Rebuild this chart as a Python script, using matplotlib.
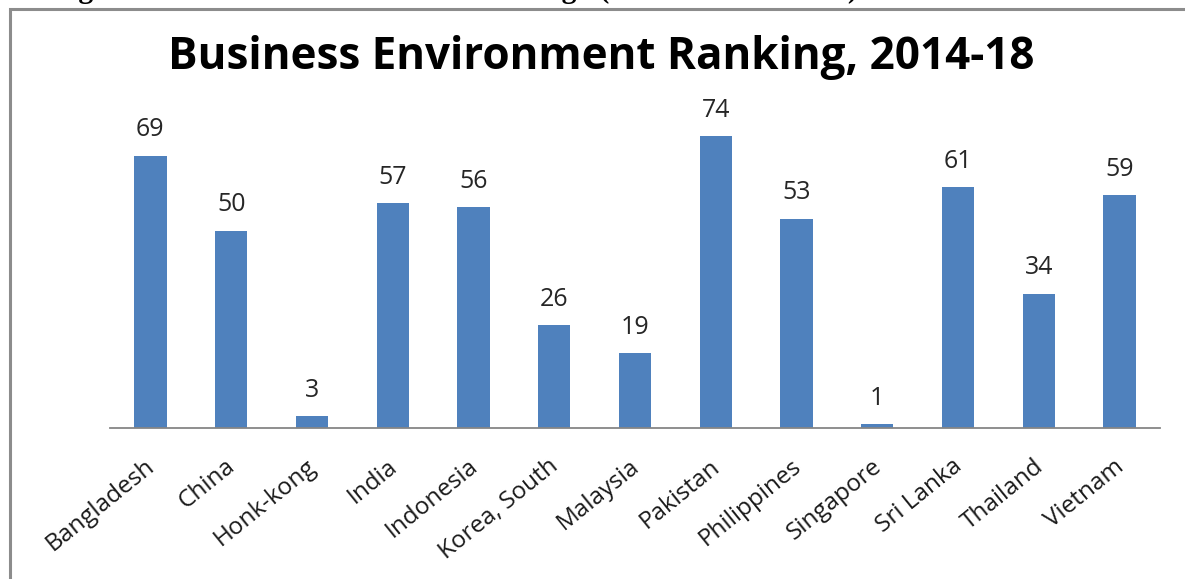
import matplotlib.pyplot as plt
import matplotlib.transforms as mtransforms
from matplotlib.patches import Rectangle

# data
countries = ['Bangladesh', 'China', 'Honk-kong', 'India', 'Indonesia', 'Korea, South',
             'Malaysia', 'Pakistan', 'Philippines', 'Singapore', 'Sri Lanka', 'Thailand', 'Vietnam']
ranks = [69, 50, 3, 57, 56, 26, 19, 74, 53, 1, 61, 34, 59]

W, H = 1185, 579
fig = plt.figure(figsize=(W / 100, H / 100), dpi=100)

# cut-off caption above the chart frame (only the descenders show)
fig.text(576 / W, 1 + 2 / H, 'Figure 5: Business Environment Ranking',
         fontsize=21.4, fontweight='bold', family='Liberation Serif', va='baseline', ha='right')
fig.text(600 / W, 1 + 2 / H, '(Rank 2014-18 Index)',
         fontsize=20, fontweight='bold', family='Liberation Serif', va='baseline', ha='left')

# chart frame
fig.patches.append(Rectangle((9.5 / W, -0.05), 1.1, 1 - 8.5 / H + 0.05, transform=fig.transFigure,
                             fill=False, edgecolor='#8c8c8c', lw=2.2, zorder=0))

ax = fig.add_axes([110 / W, 1 - 428 / H, (1160 - 110) / W, (428 - 136) / H])
x = range(len(countries))
ax.bar(x, ranks, width=0.4, color='#4F81BD')
ax.set_xlim(-0.5, len(countries) - 0.5)
ax.set_ylim(0, 74)
ax.set_facecolor('none')

for s in ['top', 'right', 'left']:
    ax.spines[s].set_visible(False)
ax.spines['bottom'].set_color('#868686')
ax.spines['bottom'].set_linewidth(1.3)
ax.set_yticks([])
ax.set_xticks(list(x))
ax.set_xticklabels(countries, rotation=39, ha='right', va='top', rotation_mode='anchor',
                   fontsize=17.5, family='Open Sans', color='#1a1a1a')
ax.tick_params(axis='x', length=0, pad=19)
shift = mtransforms.ScaledTranslation(-6 / 100, 0, fig.dpi_scale_trans)
for lab in ax.get_xticklabels():
    lab.set_transform(lab.get_transform() + shift)

for i, v in enumerate(ranks):
    ax.annotate(str(v), (i, v), xytext=(0, 14), textcoords='offset points', ha='center', va='baseline',
                fontsize=18, family='Open Sans', color='#262626')

fig.text(601 / W, 1 - 57 / H, 'Business Environment Ranking, 2014-18', ha='center', va='center',
         fontsize=31.7, fontweight='bold', family='Open Sans')

fig.savefig('out.png', dpi=100)
